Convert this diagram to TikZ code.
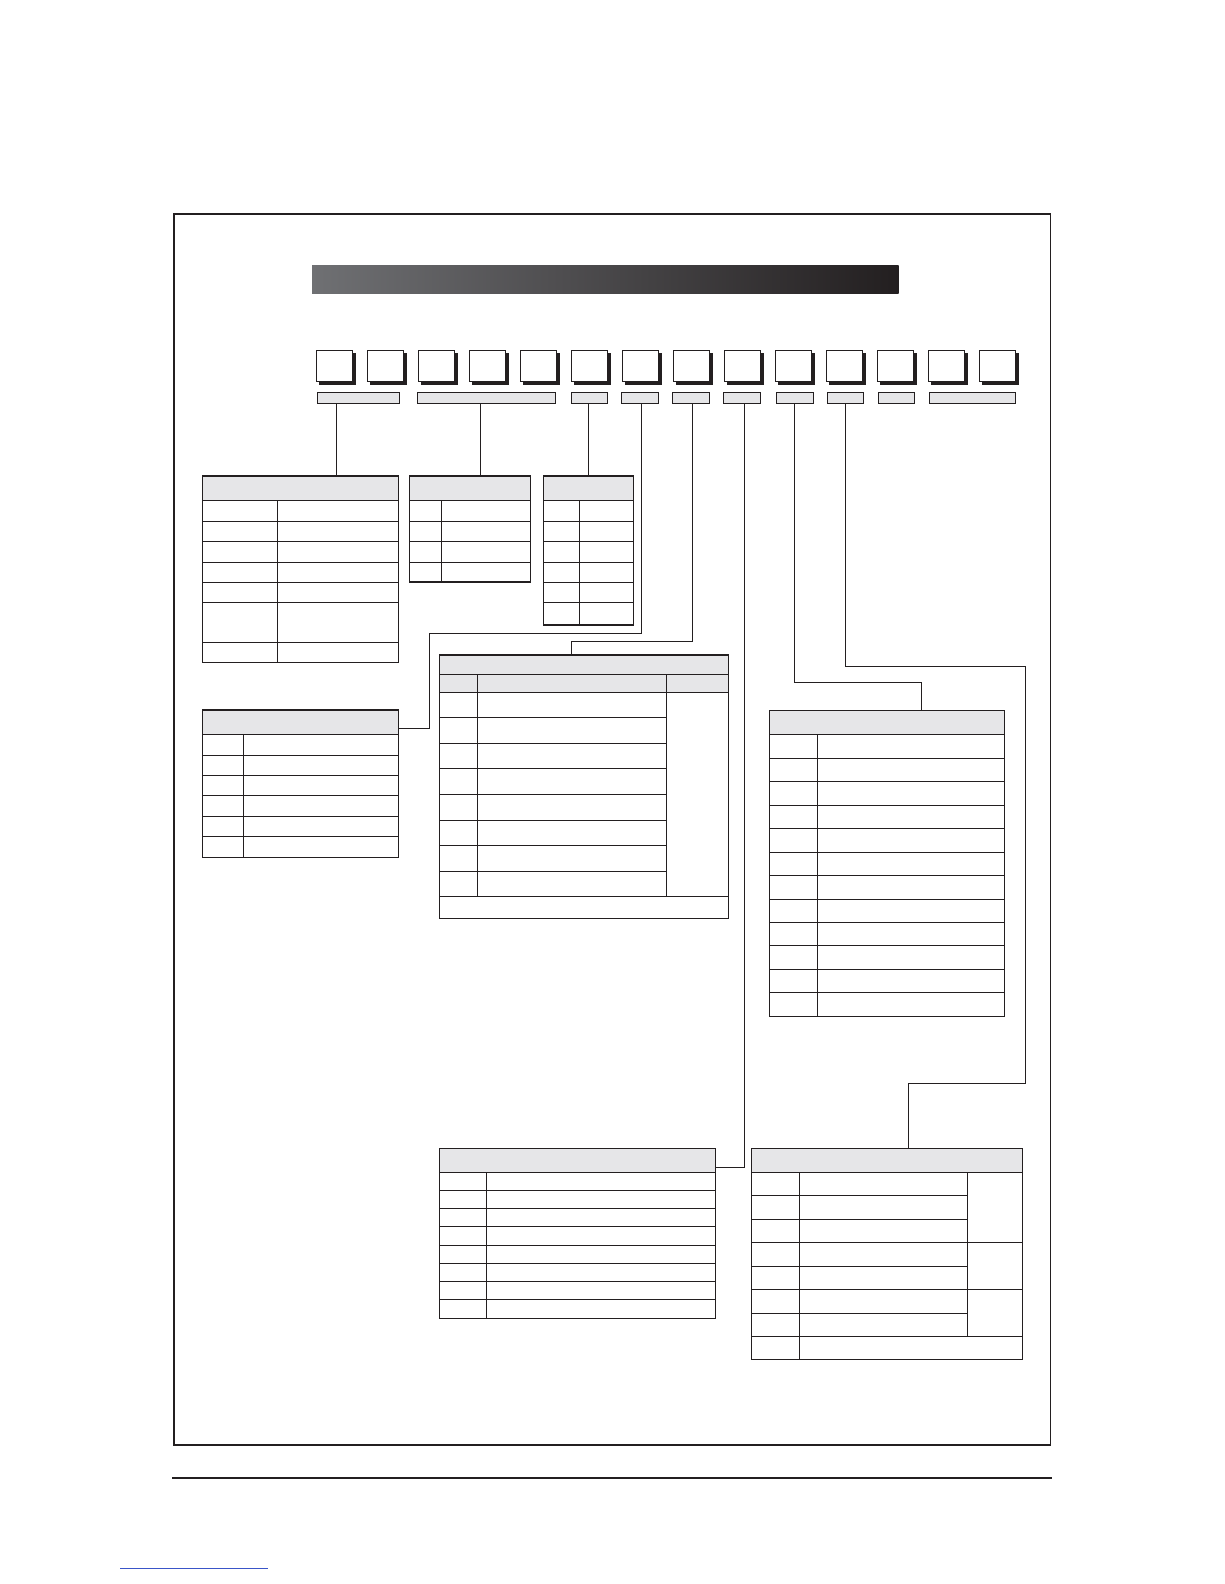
\documentclass[tikz,border=0pt]{standalone}
\definecolor{hdr}{HTML}{E6E6E8}
\definecolor{ink}{HTML}{231F20}
\definecolor{barl}{HTML}{6F7073}
\definecolor{linkblue}{HTML}{3A55C8}
\begin{document}
\begin{tikzpicture}[x=1pt,y=-1pt,
  tl/.style={draw=ink,line width=1pt},
  tframe/.style={draw=ink,line width=1.1pt,inner sep=0pt,outer sep=0pt,anchor=north west},
  digbox/.style={draw=ink,fill=white,line width=1pt,inner sep=0pt,outer sep=0pt,anchor=north west,minimum width=36pt,minimum height=31.7pt},
  lbar/.style={draw=ink,fill=hdr,line width=1pt,inner sep=0pt,outer sep=0pt,anchor=north west,minimum height=11.4pt},
  conn/.style={draw=ink,line width=1pt}]
\useasboundingbox (0,0) rectangle (1224,1584);
\fill[white] (0,0) rectangle (1224,1584);

% outer frame, title bar, footer
\node[draw=ink,line width=1.4pt,inner sep=0pt,anchor=north west,minimum width=876.7pt,minimum height=1231pt] (frame) at (173.3,213.3) {};
\shade[left color=barl,right color=ink] (312,265) rectangle (898.7,293.7);
\coordinate (fl) at (172.3,1477.7);
\coordinate (fr) at (1052,1477.7);
\draw[ink,line width=2pt] (fl) -- (fr);
\coordinate (bl) at (120,1568);
\coordinate (br) at (268,1568);
\draw[linkblue,line width=0.8pt] (bl) -- (br);

% digit boxes with shadows
\foreach \i in {0,...,13}{
  \pgfmathsetmacro{\bx}{316.3+51*\i}
  \fill[ink] (\bx+3,353) rectangle (\bx+39.5,385.2);
  \node[digbox] (b\i) at (\bx,350) {};
}

% label bars
\node[lbar,minimum width=82.6pt] (L1) at (317,392.3) {};
\node[lbar,minimum width=138.2pt] (L2) at (417.5,392.3) {};
\node[lbar,minimum width=36.6pt] (L3) at (571,392.3) {};
\node[lbar,minimum width=36.7pt] (L4) at (621.9,392.3) {};
\node[lbar,minimum width=36.7pt] (L5) at (672.8,392.3) {};
\node[lbar,minimum width=36.7pt] (L6) at (723.8,392.3) {};
\node[lbar,minimum width=37pt] (L7) at (776,392.3) {};
\node[lbar,minimum width=36.8pt] (L8) at (827,392.3) {};
\node[lbar,minimum width=36.8pt] (L9) at (878,392.3) {};
\node[lbar,minimum width=86pt] (L10) at (929,392.3) {};

% ---------- table A ----------
\fill[hdr] (202.4,476) rectangle (398.3,500.3);
\node[tframe,minimum width=195.9pt,minimum height=186.3pt] (tA) at (202.4,476) {};
\foreach \y in {500.3,521.3,541.3,562.3,582.3,602.3,642.3}{\draw[tl] (202.4,\y) -- (398.3,\y);}
\draw[tl] (277.3,500.3) -- (277.3,662.3);

% ---------- table B ----------
\fill[hdr] (409.3,476) rectangle (530.3,500.3);
\node[tframe,minimum width=121pt,minimum height=106pt] (tB) at (409.3,476) {};
\foreach \y in {500.3,521.3,541.3,562.3}{\draw[tl] (409.3,\y) -- (530.3,\y);}
\draw[tl] (441.3,500.3) -- (441.3,582.3);

% ---------- table C ----------
\fill[hdr] (543.3,476) rectangle (633.3,500.3);
\node[tframe,minimum width=90pt,minimum height=149pt] (tC) at (543.3,476) {};
\foreach \y in {500.3,521.3,541.3,562.3,582.3,602.3}{\draw[tl] (543.3,\y) -- (633.3,\y);}
\draw[tl] (579.3,500.3) -- (579.3,625);

% ---------- table D ----------
\fill[hdr] (202.4,710) rectangle (398.3,734.3);
\node[tframe,minimum width=195.9pt,minimum height=147.3pt] (tD) at (202.4,710) {};
\foreach \y in {734.3,755.3,775.3,795.3,816.3,836.3}{\draw[tl] (202.4,\y) -- (398.3,\y);}
\draw[tl] (243.4,734.3) -- (243.4,857.3);

% ---------- table E ----------
\fill[hdr] (439.3,655) rectangle (728.2,692.3);
\node[tframe,minimum width=288.9pt,minimum height=263.3pt] (tE) at (439.3,655) {};
\foreach \y in {674,692.3,896}{\draw[tl] (439.3,\y) -- (728.2,\y);}
\foreach \y in {717.3,743.3,768.3,794.3,820.3,845.3,871.3}{\draw[tl] (439.3,\y) -- (666.2,\y);}
\draw[tl] (477.2,674) -- (477.2,896);
\draw[tl] (666.2,674) -- (666.2,896);

% ---------- table F ----------
\fill[hdr] (769.3,710.3) rectangle (1004.3,734.3);
\node[tframe,minimum width=235pt,minimum height=306pt] (tF) at (769.3,710.3) {};
\foreach \y in {734.3,758.3,781.7,805.3,828.7,852.3,875.7,899.3,922.7,945.7,969.3,992.3}{\draw[tl] (769.3,\y) -- (1004.3,\y);}
\draw[tl] (817.3,734.3) -- (817.3,1016.3);

% ---------- table G ----------
\fill[hdr] (439.5,1148.3) rectangle (715.3,1172.3);
\node[tframe,minimum width=275.8pt,minimum height=170pt] (tG) at (439.5,1148.3) {};
\foreach \y in {1172.3,1190.3,1208.3,1226.7,1245.3,1263.3,1281.7,1299.7}{\draw[tl] (439.5,\y) -- (715.3,\y);}
\draw[tl] (486.5,1172.3) -- (486.5,1318.3);

% ---------- table H ----------
\fill[hdr] (751.6,1148.3) rectangle (1022.4,1172.3);
\node[tframe,minimum width=270.8pt,minimum height=211pt] (tH) at (751.6,1148.3) {};
\foreach \y in {1172.3,1242.3,1289.3,1336.3}{\draw[tl] (751.6,\y) -- (1022.4,\y);}
\foreach \y in {1195.3,1219.3,1266.3,1313.3}{\draw[tl] (751.6,\y) -- (967.4,\y);}
\draw[tl] (799.3,1172.3) -- (799.3,1359.3);
\draw[tl] (967.4,1172.3) -- (967.4,1336.3);

% ---------- connectors ----------
\coordinate (k1) at (336.7,0);
\coordinate (k2) at (480.4,0);
\coordinate (k3) at (588,0);
\draw[conn] (L1.south -| k1) -- (tA.north -| k1);
\draw[conn] (L2.south -| k2) -- (tB.north -| k2);
\draw[conn] (L3.south -| k3) -- (tC.north -| k3);

\coordinate (c4a) at (641.6,633.3);
\coordinate (c4b) at (429.3,633.3);
\coordinate (c4c) at (429.3,728.3);
\draw[conn] (L4.south -| c4a) -- (c4a) -- (c4b) -- (c4c) -- (tD.east |- c4c);

\coordinate (c5a) at (692.6,641.3);
\coordinate (c5b) at (571.2,641.3);
\draw[conn] (L5.south -| c5a) -- (c5a) -- (c5b) -- (tE.north -| c5b);

\coordinate (c6a) at (744.4,1167.3);
\draw[conn] (L6.south -| c6a) -- (c6a) -- (tG.east |- c6a);

\coordinate (c7a) at (794.4,682.3);
\coordinate (c7b) at (921.3,682.3);
\draw[conn] (L7.south -| c7a) -- (c7a) -- (c7b) -- (tF.north -| c7b);

\coordinate (c8a) at (845.4,666.3);
\coordinate (c8b) at (1025.7,666.3);
\coordinate (c8c) at (1025.7,1083.7);
\coordinate (c8d) at (908.3,1083.7);
\draw[conn] (L8.south -| c8a) -- (c8a) -- (c8b) -- (c8c) -- (c8d) -- (tH.north -| c8d);
\end{tikzpicture}
\end{document}
